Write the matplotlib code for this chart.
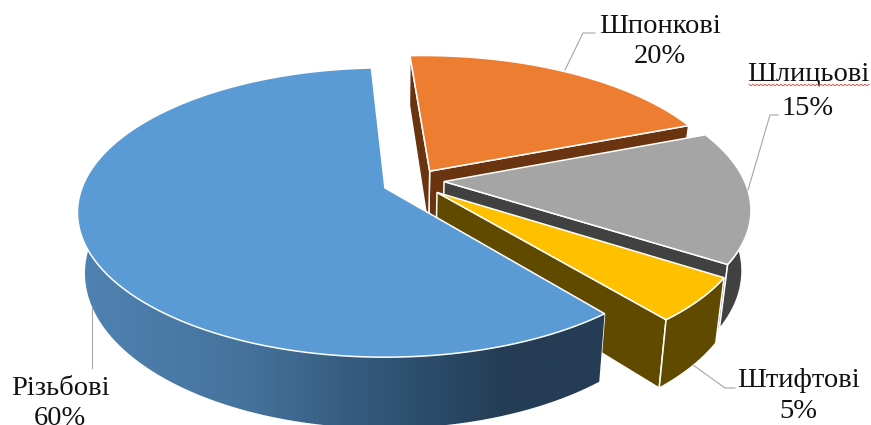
from matplotlib import pyplot as plt
from matplotlib.colors import LinearSegmentedColormap
from matplotlib.patches import Polygon
import numpy as np

# pie data, anticlockwise from the top of the chart
names = ["Різьбові", "Штифтові", "Шлицьові", "Шпонкові"]
shares = [60, 5, 15, 20]
top_colors = ["#5b9bd5", "#ffc000", "#a5a5a5", "#ed7d31"]
side_colors = ["#3f6d98", "#604a00", "#414141", "#6a3410"]

start_angle = 93.0
explode = 0.102
true_center = (0.095, 0.037)
slice_shift_y = [0.0, 0.0, 0.02, 0.0]

# projection of the unit disc on the canvas
cx, cy = 385.0, 188.0
rx, ry = 303.0, 140.5
persp = 0.17
depth = 59.0
shrink = 0.025


def project(x, y, z=0.0):
    w = 1 + persp * y
    sx = cx + rx * x / (w * (1 + shrink * z))
    sy = cy + (-ry * y + depth * z) / w
    return np.column_stack([sx, sy])


def slice_points(a0, a1, shift_y):
    # apex and rim of one slice, in disc coordinates
    mid = np.radians((a0 + a1) / 2)
    ox = true_center[0] + explode * np.cos(mid)
    oy = true_center[1] + explode * np.sin(mid) + shift_y
    t = np.radians(np.linspace(a0, a1, 160))
    return ox, oy, t, ox + np.cos(t), oy + np.sin(t)


fig = plt.figure(figsize=(8.71, 4.25), dpi=100)
ax = fig.add_axes([0, 0, 1, 1])
ax.set_xlim(0, 871)
ax.set_ylim(425, 0)
ax.axis("off")

edge = dict(edgecolor="white", linewidth=1.1)

# slices are painted from the back to the front
bounds = start_angle + np.cumsum([0] + shares) * 3.6
for i in [3, 2, 1, 0]:
    a0, a1 = bounds[i], bounds[i + 1]
    ox, oy, t, rim_x, rim_y = slice_points(a0, a1, slice_shift_y[i])
    color = side_colors[i]
    base = i * -3 + 10

    # only walls turned towards the viewer get drawn
    for ang, ex, ey, normal in [(a0, rim_x[0], rim_y[0], a0 + 90), (a1, rim_x[-1], rim_y[-1], a1 - 90)]:
        if np.sin(np.radians(normal)) < 0:
            continue
        face = np.vstack([
            project(np.array([ox, ex]), np.array([oy, ey])),
            project(np.array([ex, ox]), np.array([ey, oy]), 1.0),
        ])
        ax.add_patch(Polygon(face, facecolor=color, zorder=base, **edge))

    front = np.sin(t) < 0.02
    if front.any():
        rim = np.vstack([project(rim_x[front], rim_y[front]),
                         project(rim_x[front][::-1], rim_y[front][::-1], 1.0)])
        patch = Polygon(rim, facecolor=color, zorder=base + 1, **edge)
        ax.add_patch(patch)
        if names[i] == "Різьбові":
            # the long outer wall darkens towards its right end
            cmap = LinearSegmentedColormap.from_list(
                "wall", [(0, "#5083b2"), (0.32, "#44729c"), (0.6, "#2f5272"), (0.8, "#243d55"), (1, "#243d55")])
            img = ax.imshow(np.linspace(0, 1, 256).reshape(1, -1), cmap=cmap, aspect="auto",
                            extent=(78, 610, 425, 0), zorder=base + 1.5)
            img.set_clip_path(patch)

    top = np.vstack([project(np.array([ox]), np.array([oy])), project(rim_x, rim_y)])
    ax.add_patch(Polygon(top, facecolor=top_colors[i], zorder=base + 2, **edge))

ax.set_xlim(0, 871)
ax.set_ylim(425, 0)

# leader lines
leaders = [
    ([92, 92], [308, 368]),
    ([693, 725, 735], [365, 388, 388]),
    ([748, 770, 778], [190, 115, 115]),
    ([565, 583, 595], [70, 33, 33]),
]
for lx, ly in leaders:
    ax.plot(lx, ly, color="#a6a6a6", linewidth=0.8, zorder=20)

# labels: name on the first line, share on the second
label_x = [60, 798, 808, 660]
name_y = [395, 387, 80, 33]
value_y = [425, 418, 115, 63]
for i in range(4):
    ax.text(label_x[i], name_y[i], names[i], family="Liberation Serif", fontsize=20.5,
            ha="center", va="baseline", color="#111111", zorder=21)
    ax.text(label_x[i], value_y[i], f"{shares[i]}%", family="Liberation Serif", fontsize=20.5,
            ha="center", va="baseline", color="#111111", zorder=21)

# spell-check squiggle under the misspelt label
sq_x = np.arange(749, 870, 2)
sq_y = 85 + np.where(np.arange(len(sq_x)) % 2 == 0, -0.7, 0.7)
ax.plot(sq_x, sq_y, color="#d8433c", linewidth=0.6, zorder=21)

fig.savefig("out.png", dpi=100)
